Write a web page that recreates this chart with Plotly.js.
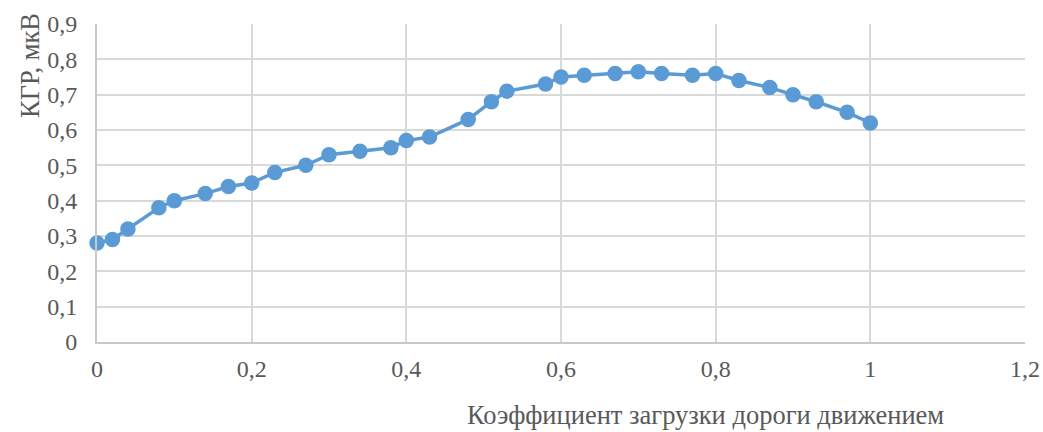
<!DOCTYPE html>
<html><head><meta charset="utf-8">
<script src="https://cdn.plot.ly/plotly-3.0.1.min.js"></script>
<style>body{margin:0;background:#fff}#c{width:1043px;height:432px}</style>
</head><body><div id="c"></div>
<script>
var loadCoef = [0,0.02,0.04,0.08,0.10,0.14,0.17,0.20,0.23,0.27,0.30,0.34,0.38,0.40,0.43,0.48,0.51,0.53,0.58,0.60,0.63,0.67,0.70,0.73,0.77,0.80,0.83,0.87,0.90,0.93,0.97,1.00];
var kgr = [0.28,0.29,0.32,0.38,0.40,0.42,0.44,0.45,0.48,0.50,0.53,0.54,0.55,0.57,0.58,0.63,0.68,0.71,0.73,0.75,0.755,0.76,0.765,0.76,0.755,0.76,0.74,0.72,0.70,0.68,0.65,0.62];
var xTitle = 'Коэффициент загрузки дороги движением';
var yTitle = 'КГР, мкВ';

var fam = 'Liberation Serif, serif';
var tickFont = {family:fam, size:24, color:'#595959'};
var titleFont = {family:fam, size:26.5, color:'#595959'};
Plotly.newPlot('c', [{
  x: loadCoef, y: kgr, type:'scatter', mode:'lines+markers',
  line:{color:'#5b9bd5', width:3.5},
  marker:{color:'#5b9bd5', size:15.5},
  hoverinfo:'none', cliponaxis:false
}], {
  width:1043, height:432,
  margin:{l:97, r:18, t:24, b:90},
  paper_bgcolor:'#fff', plot_bgcolor:'#fff',
  separators:', ',
  showlegend:false,
  font: tickFont,
  xaxis:{range:[0,1.2], dtick:0.2, tick0:0, showgrid:true, gridcolor:'#d9d9d9', gridwidth:2,
    zeroline:false, showline:true, linecolor:'#c8c8c8', linewidth:2,
    ticks:'outside', ticklen:4, tickcolor:'rgba(0,0,0,0)', tickfont:tickFont, fixedrange:true},
  yaxis:{range:[0,0.9], dtick:0.1, tick0:0, showgrid:true, gridcolor:'#d9d9d9', gridwidth:2,
    zeroline:false, showline:true, linecolor:'#c8c8c8', linewidth:2,
    ticks:'outside', ticklen:13, tickcolor:'rgba(0,0,0,0)', tickfont:tickFont, fixedrange:true},
  annotations:[
    {text:xTitle, xref:'paper', yref:'paper', x:(705-97)/928, y:-(415-342)/318, xanchor:'center', yanchor:'middle', showarrow:false, font:titleFont},
    {text:yTitle, xref:'paper', yref:'paper', x:-(97-30)/928, y:(342-66)/318, xanchor:'center', yanchor:'middle', textangle:-90, showarrow:false, font:titleFont}
  ]
}, {staticPlot:true});
</script></body></html>
